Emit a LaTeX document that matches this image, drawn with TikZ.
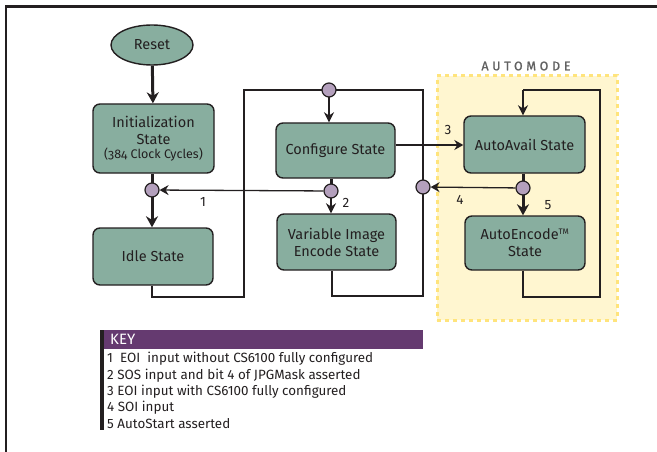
\documentclass[tikz,border=0pt]{standalone}
\usepackage{fontspec}
\setmainfont{Fira Sans}
\newfontfamily\spacedfont[LetterSpace=30,FakeBold=1.2]{Fira Sans}
\usetikzlibrary{arrows.meta,shapes.geometric}
\definecolor{boxfill}{HTML}{88AE9F}
\definecolor{dotfill}{HTML}{B4A0BD}
\definecolor{keypurple}{HTML}{653A70}
\definecolor{autofill}{HTML}{FFF6D0}
\definecolor{autoedge}{HTML}{FFE47C}
\definecolor{ink}{HTML}{231F20}
\tikzset{
  statebox/.style={draw=ink, line width=1.4pt, fill=boxfill, rounded corners=7pt, align=center, font=\fontsize{14.5}{17}\selectfont, text=ink, inner sep=0pt},
  dot/.style={circle, draw=ink, line width=1.2pt, fill=dotfill, minimum size=14pt, inner sep=0pt},
  heavy/.style={draw=ink, line width=3pt},
  heavyarrow/.style={heavy, -{Stealth[length=11pt, width=12pt]}},
  midarrow/.style={draw=ink, line width=2.2pt, -{Stealth[length=10pt, width=10pt]}},
  thinline/.style={draw=ink, line width=1.3pt},
  thinarrow/.style={thinline, -{Stealth[length=9pt, width=10pt, inset=3pt]}},
  lbl/.style={font=\fontsize{13.5}{15}\selectfont, text=ink, inner sep=0pt},
  keytext/.style={font=\fontsize{13.4}{15}\selectfont, text=ink, anchor=west, inner sep=0pt}
}
\begin{document}
\begin{tikzpicture}[x=1pt, y=-1pt]
\useasboundingbox (0,0) rectangle (657,452);
% frame
\draw[ink, line width=2pt] (6,452) -- (6,6);
\draw[ink, line width=3pt] (5,6.5) -- (657,6.5);
% automode region
\node (automode) [draw=autoedge, fill=autofill, line width=3pt, dash pattern=on 4pt off 4pt, minimum width=180pt, minimum height=244pt, inner sep=0pt] at (527,198) {};
\node (autolbl) [font=\spacedfont\fontsize{12.5}{14}\selectfont, text=black!62] at (526,66) {AUTOMODE};
% state nodes
\node (reset) [ellipse, draw=ink, line width=1.4pt, fill=boxfill, minimum width=82pt, minimum height=40pt, inner sep=0pt, font=\fontsize{14.5}{17}\selectfont, text=ink] at (152,45) {Reset};
\node (init) [statebox, minimum width=121pt, minimum height=69pt] at (153.5,138.5) {Initialization\\State\\[-3pt]{\fontsize{12.5}{14}\selectfont\addfontfeature{Numbers=OldStyle}(384 Clock Cycles)}};
\node (idle) [statebox, minimum width=120pt, minimum height=57pt] at (153,256.5) {Idle State};
\node (conf) [statebox, minimum width=119pt, minimum height=55pt] at (335.5,150.5) {Configure State};
\node (vie) [statebox, minimum width=119pt, minimum height=56pt] at (336.5,242) {Variable Image\\Encode State};
\node (avail) [statebox, minimum width=121pt, minimum height=57pt] at (524.5,144.5) {AutoAvail State};
\node (enc) [statebox, minimum width=120pt, minimum height=54pt] at (525,243) {AutoEncode\textsuperscript{\fontsize{8}{8}\selectfont TM}\\State};
% junction coordinates
\coordinate (c1p) at (152,190);
\coordinate (ctopp) at (329,90);
\coordinate (c2p) at (331,191);
\coordinate (c4p) at (423,187);
\coordinate (c5p) at (523,188);
\coordinate (a1) at (152,297);
\coordinate (a2) at (244,297);
\coordinate (a3) at (244,90);
\coordinate (a4) at (423,90);
\coordinate (a5) at (423,296);
\coordinate (a6) at (332,296);
\coordinate (b1) at (523,297);
\coordinate (b2) at (600,297);
\coordinate (b3) at (600,90);
\coordinate (b4) at (523,90);
% return paths
\draw[thinline] (idle.south -| a1) -- (a1) -- (a2) -- (a3) -- (a4) -- (a5) -- (a6) -- (vie.south -| a6);
\draw[thinline] (enc.south -| b1) -- (b1) -- (b2) -- (b3) -- (b4);
\draw[midarrow] (b4) -- (avail.north -| b4);
% heavy connectors
\draw[heavyarrow] (reset) -- (init);
\draw[heavy] (init.south -| c1p) -- (c1p);
\draw[heavyarrow] (c1p) -- (idle.north -| c1p);
\draw[heavy] (conf.south -| c2p) -- (c2p);
\draw[heavy] (avail.south -| c5p) -- (c5p);
\draw[heavyarrow] (c5p) -- (enc.north -| c5p);
\draw[midarrow] (c2p) -- (vie.north -| c2p);
\draw[midarrow] (ctopp) -- (conf.north -| ctopp);
\draw[thinarrow] (conf.east |- 0,145) -- (avail.west |- 0,145);
% dots
\node (c1) [dot] at (c1p) {};
\node (ctop) [dot] at (ctopp) {};
\node (c2) [dot] at (c2p) {};
\node (c4) [dot] at (c4p) {};
\node (c5) [dot] at (c5p) {};
% thin arrows between dots
\draw[thinarrow] (c2) -- (c1);
\draw[thinarrow] (c5) -- (c4);
% labels
\node (l1) [lbl] at (203,202) {1};
\node (l2) [lbl] at (346,203) {2};
\node (l3) [lbl] at (448,130) {3};
\node (l4) [lbl] at (460,200) {4};
\node (l5) [lbl] at (548,205) {5};
% key
\fill[keypurple] (104,330) rectangle (423,349);
\fill[ink] (100,330) rectangle (104,430);
\node (keyhead) [anchor=west, inner sep=0pt, text=white, font=\fontsize{15}{17}\selectfont] at (110,339.5) {KEY};
\node (k1) [keytext] at (107,359) {1\ \ EOI\ \ input without CS6100 fully configured};
\node (k2) [keytext] at (107,375.5) {2 SOS input and bit 4 of JPGMask asserted};
\node (k3) [keytext] at (107,392) {3 EOI input with CS6100 fully configured};
\node (k4) [keytext] at (107,408) {4 SOI input};
\node (k5) [keytext] at (107,424) {5 AutoStart asserted};
\end{tikzpicture}
\end{document}
